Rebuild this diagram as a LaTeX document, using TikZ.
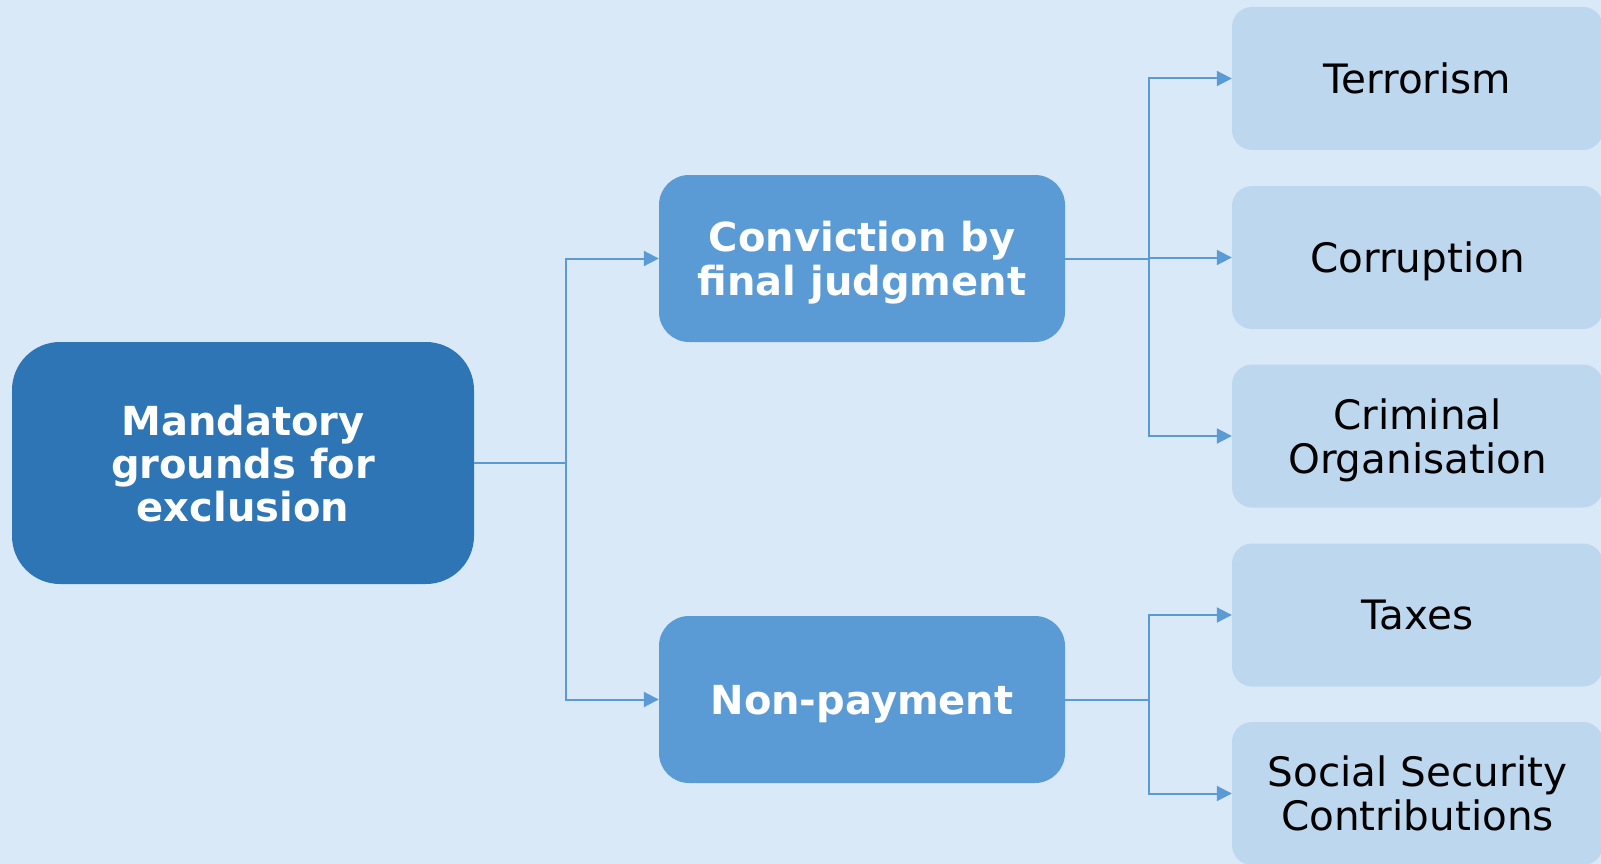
\documentclass[tikz,border=0pt]{standalone}
\usepackage{fontspec}
\setmainfont{DejaVu Sans}
\usetikzlibrary{arrows.meta}
\definecolor{bgblue}{HTML}{DAE9F8}
\definecolor{darkblue}{HTML}{2E75B6}
\definecolor{midblue}{HTML}{5B9BD5}
\definecolor{paleblue}{HTML}{BDD7EE}

\begin{document}
\begin{tikzpicture}[x=1pt,y=-1pt,
    every node/.style={align=center,inner sep=0pt,text depth=0pt,font=\fontsize{40.5}{44}\selectfont},
    rootbox/.style={fill=darkblue,text=white,font=\fontsize{40}{43}\selectfont\bfseries,
        rounded corners=48pt,minimum width=462pt,minimum height=242pt},
    groupbox/.style={fill=midblue,text=white,font=\fontsize{40}{44}\selectfont\bfseries,
        rounded corners=30pt,minimum width=406pt,minimum height=167pt},
    leafbox/.style={fill=paleblue,text=black,
        rounded corners=20pt,minimum width=371pt,minimum height=143pt},
    conn/.style={draw=midblue,line width=2pt,-{Triangle[length=15pt,width=15pt]}}]
        \fill [bgblue] (0,0) rectangle (1601,864);
        \useasboundingbox (0,0) rectangle (1601,864);
        % root
        \node [rootbox] (Grounds) at (243,463) {Mandatory\\grounds for\\exclusion};
        % second level
        \node [groupbox] (Conviction) at (862,258.5) {Conviction by\\final judgment};
        \node [groupbox] (Nonpayment) at (862,699.5) {Non-payment};
        % leaves
        \node [leafbox] (Terrorism) at (1417.5,78.5) {Terrorism};
        \node [leafbox] (Corruption) at (1417.5,257.5) {Corruption};
        \node [leafbox] (Criminal) at (1417.5,436) {Criminal\\Organisation};
        \node [leafbox] (Taxes) at (1417.5,615) {Taxes};
        \node [leafbox] (Social) at (1417.5,793.5) {Social Security\\Contributions};
        % connectors
        \draw [conn] (Grounds.east) -- ++(92,0) |- (Conviction.west);
        \draw [conn] (Grounds.east) -- ++(92,0) |- (Nonpayment.west);
        \draw [conn] (Conviction.east) -- ++(84,0) |- (Terrorism.west);
        \draw [conn] (Conviction.east) -- ++(84,0) |- (Corruption.west);
        \draw [conn] (Conviction.east) -- ++(84,0) |- (Criminal.west);
        \draw [conn] (Nonpayment.east) -- ++(84,0) |- (Taxes.west);
        \draw [conn] (Nonpayment.east) -- ++(84,0) |- (Social.west);
\end{tikzpicture}
\end{document}
